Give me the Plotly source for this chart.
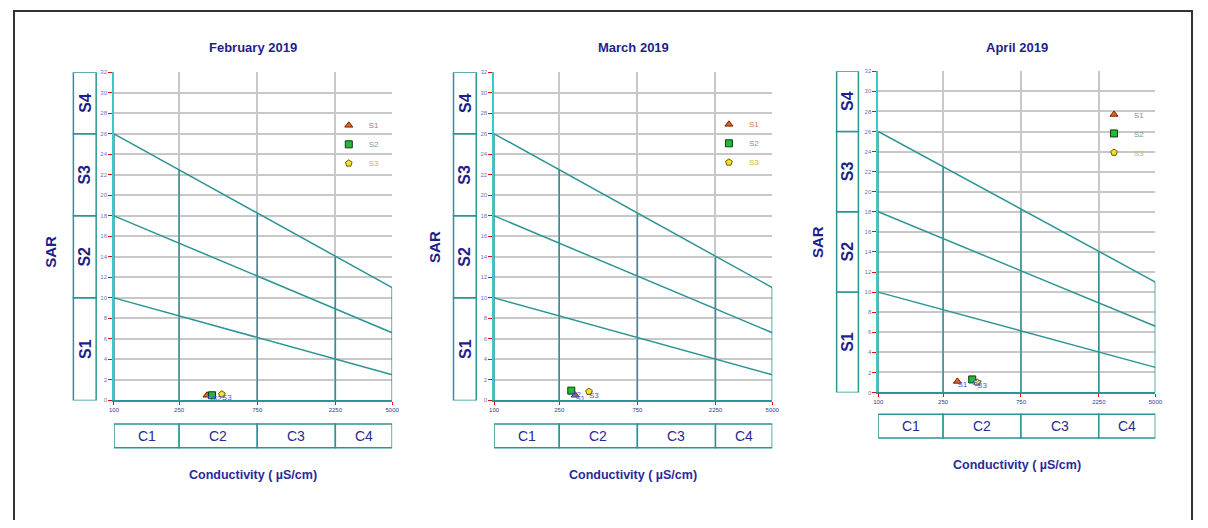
import numpy as np
import plotly.graph_objects as go

# ---------------- data ----------------
months = ["February 2019", "March 2019", "April 2019"]
samples = ["S1", "S2", "S3"]
ec_feb = [370, 397, 456]
ec_mar = [313, 296, 380]
ec_apr = [306, 377, 404]
sar_feb = [0.5, 0.5, 0.6]
sar_mar = [0.5, 0.95, 0.85]
sar_apr = [1.1, 1.3, 1.0]
ec_sets = [ec_feb, ec_mar, ec_apr]
sar_sets = [sar_feb, sar_mar, sar_apr]

ec_ticks = [100, 250, 750, 2250, 5000]
ec_tick_text = ["100", "250", "750", "2250", "5000"]
sar_ticks = list(range(0, 33, 2))
c_bounds = [100, 250, 750, 2250, 5000]
c_labels = ["C1", "C2", "C3", "C4"]
s_bounds = [0, 10, 18, 26, 32]
s_labels = ["S1", "S2", "S3", "S4"]
# diagonal class boundaries: SAR at EC=100 and EC=5000
line_ec = [100, 5000]
line_low = [10, 2.5]
line_mid = [18, 6.6]
line_high = [26, 11]
vline_ec = [100, 250, 750, 2250, 5000]
vline_tops = [26, 22.5, 18.2, 14.0, 11.0]

# ---------------- styles ----------------
PAGE_OFF = 8            # default page margin around the figure
W, H = 1192, 512
TEAL = "#2b9494"
NAVY = "#1f1f8a"
FONT = "Liberation Sans, Arial, sans-serif"
sym = ["triangle-up", "square", "pentagon"]
fill = ["#e8601c", "#22bb33", "#f2e22a"]
edge = ["#6a2400", "#0a3a10", "#6a5a00"]
legend_text_col = ["#c87a4a", "#6f9f86", "#c8b840"]

# panel geometry in screen pixels
panels = [
    dict(px=(110, 391), py=(70, 402), sbox=(69, 92), cbox=(426, 450), xt=478, yt=(46, 252), leg=(327, 109)),
    dict(px=(494, 775), py=(70, 402), sbox=(453, 476), cbox=(426, 450), xt=478, yt=(433, 247), leg=(711, 108)),
    dict(px=(882, 1162), py=(69, 394), sbox=(840, 862), cbox=(416, 440), xt=467, yt=(820, 242), leg=(1100, 98)),
]


def fx(p):
    return (p - PAGE_OFF) / W


def fy(p):
    return 1 - (p - PAGE_OFF) / H


fig = go.Figure()
layout = dict(width=W, height=H, margin=dict(l=0, r=0, t=0, b=0),
              paper_bgcolor="white", plot_bgcolor="white", showlegend=True,
              font=dict(family=FONT))
shapes = []
annotations = []

for k, pan in enumerate(panels):
    n = "" if k == 0 else str(k + 1)
    xa, ya = "x" + n, "y" + n
    legname = "legend" + n

    # diagonal boundary lines
    for ys in (line_low, line_mid, line_high):
        fig.add_trace(go.Scatter(x=line_ec, y=ys, mode="lines", xaxis=xa, yaxis=ya,
                                 line=dict(color=TEAL, width=1.5), showlegend=False, hoverinfo="skip"))
    # vertical class dividers
    vx, vy = [], []
    for e, t in zip(vline_ec, vline_tops):
        vx += [e, e, None]
        vy += [0, t, None]
    fig.add_trace(go.Scatter(x=vx, y=vy, mode="lines", xaxis=xa, yaxis=ya,
                             line=dict(color=TEAL, width=1.5), showlegend=False, hoverinfo="skip"))

    ecs, sars = ec_sets[k], sar_sets[k]
    for i, s in enumerate(samples):
        fig.add_trace(go.Scatter(
            x=[ecs[i]], y=[sars[i]], mode="markers", xaxis=xa, yaxis=ya,
            name=f"<span style='color:{legend_text_col[i]}'>{s}</span>",
            legend=legname, cliponaxis=False,
            marker=dict(symbol=sym[i], size=7, color=fill[i], line=dict(color=edge[i], width=1))))
    fig.add_trace(go.Scatter(
        x=ecs, y=sars, mode="text", text=samples, textposition="bottom right",
        textfont=dict(size=8, color="#4a5ad8", family=FONT), xaxis=xa, yaxis=ya,
        showlegend=False, cliponaxis=False, hoverinfo="skip"))

    layout["xaxis" + n] = dict(
        type="log", range=[np.log10(c_bounds[0]), np.log10(c_bounds[-1])],
        domain=[fx(pan["px"][0]), fx(pan["px"][1])], anchor=ya,
        tickmode="array", tickvals=ec_ticks, ticktext=ec_tick_text,
        ticks="outside", ticklen=3, tickcolor="red", tickwidth=1,
        showgrid=True, gridcolor="#c8c8c8", gridwidth=1.5,
        showline=True, linecolor=TEAL, linewidth=1.5, zeroline=False,
        tickfont=dict(size=6, color="#2a3aa0", family=FONT), fixedrange=True)
    layout["yaxis" + n] = dict(
        range=[0, 32], domain=[fy(pan["py"][1]), fy(pan["py"][0])], anchor=xa,
        tickmode="array", tickvals=sar_ticks,
        ticks="outside", ticklen=4, tickcolor="red", tickwidth=1,
        showgrid=True, gridcolor="#c8c8c8", gridwidth=1.5,
        showline=True, linecolor="#3cc8c8", linewidth=1.5, zeroline=False,
        tickfont=dict(size=6, color="#7070c8", family=FONT), fixedrange=True)

    layout[legname] = dict(x=fx(pan["leg"][0]), y=fy(pan["leg"][1]), xanchor="left", yanchor="top",
                           bgcolor="rgba(0,0,0,0)", font=dict(size=8, family=FONT),
                           tracegroupgap=0)

    # S class boxes
    for i in range(4):
        shapes.append(dict(type="rect", xref="paper", yref=ya,
                           x0=fx(pan["sbox"][0]), x1=fx(pan["sbox"][1]),
                           y0=s_bounds[i], y1=s_bounds[i + 1],
                           line=dict(color=TEAL, width=1.5), fillcolor="white"))
        annotations.append(dict(xref="paper", yref=ya, xanchor="center", yanchor="middle",
                                x=fx((pan["sbox"][0] + pan["sbox"][1]) / 2),
                                y=(s_bounds[i] + s_bounds[i + 1]) / 2,
                                text=f"<b>{s_labels[i]}</b>", textangle=-90, showarrow=False,
                                font=dict(size=16, color=NAVY, family=FONT)))
    # C class boxes
    for i in range(4):
        shapes.append(dict(type="rect", xref=xa, yref="paper",
                           x0=c_bounds[i], x1=c_bounds[i + 1],
                           y0=fy(pan["cbox"][1]), y1=fy(pan["cbox"][0]),
                           line=dict(color=TEAL, width=1.5), fillcolor="white"))
        annotations.append(dict(xref=xa, yref="paper", xanchor="center", yanchor="middle",
                                x=(np.log10(c_bounds[i]) + np.log10(c_bounds[i + 1])) / 2,
                                y=fy((pan["cbox"][0] + pan["cbox"][1]) / 2),
                                text=c_labels[i], showarrow=False,
                                font=dict(size=14, color="#2a2a90", family=FONT)))
    # titles
    cx = fx((pan["px"][0] + pan["px"][1]) / 2)
    annotations.append(dict(xref="paper", yref="paper", x=cx, y=fy(45),
                            xanchor="center", yanchor="middle",
                            text=f"<b>{months[k]}</b>", showarrow=False,
                            font=dict(size=13, color=NAVY, family=FONT)))
    annotations.append(dict(xref="paper", yref="paper", x=cx, y=fy(pan["xt"]),
                            xanchor="center", yanchor="middle",
                            text="<b>Conductivity ( µS/cm)</b>", showarrow=False,
                            font=dict(size=12.5, color="#2a2a9a", family=FONT)))
    annotations.append(dict(xref="paper", yref="paper", x=fx(pan["yt"][0]), y=fy(pan["yt"][1]),
                            xanchor="center", yanchor="middle",
                            text="<b>SAR</b>", textangle=-90, showarrow=False,
                            font=dict(size=15, color=NAVY, family=FONT)))

# outer frame
shapes.append(dict(type="rect", xref="paper", yref="paper", x0=fx(9), x1=fx(1199),
                   y0=-0.1, y1=fy(8), line=dict(color="#333333", width=2)))

layout["shapes"] = shapes
layout["annotations"] = annotations
fig.update_layout(**layout)
fig.write_html("out.html")
